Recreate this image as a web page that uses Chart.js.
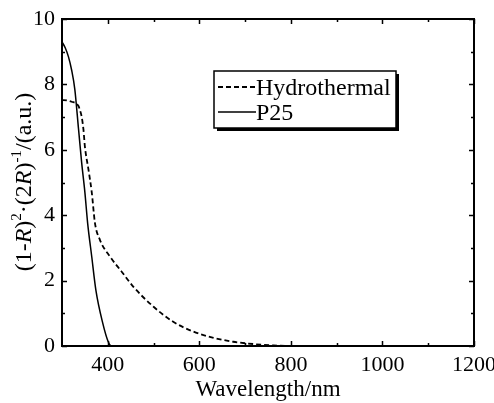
<!DOCTYPE html>
<html>
<head>
<meta charset="utf-8">
<script src="https://cdn.jsdelivr.net/npm/chart.js@4.4.1/dist/chart.umd.min.js"></script>
<style>
  html, body { margin: 0; padding: 0; background: #fff; }
  canvas { display: block; }
</style>
</head>
<body>
<canvas id="c" width="494" height="403"></canvas>
<script>
// ---- data ----
const seriesNames = ["Hydrothermal", "P25"];
const hydroWavelength = [300, 303, 321, 336, 339, 343, 347, 350, 358, 365, 372, 383, 405, 430, 456, 500, 543, 587, 631, 674, 718, 760, 800, 1200];
const hydroValues     = [7.50, 7.52, 7.47, 7.34, 7.22, 7.01, 6.6, 6.1, 5.38, 4.7, 3.76, 3.24, 2.73, 2.28, 1.81, 1.20, 0.74, 0.44, 0.25, 0.13, 0.06, 0.02, 0, 0];
const p25Wavelength   = [300, 307, 314, 321, 328, 336, 343, 350, 356, 365, 374, 389, 401, 408, 1200];
const p25Values       = [9.30, 9.12, 8.85, 8.44, 7.85, 6.65, 5.6, 4.7, 3.76, 2.73, 1.71, 0.70, 0.13, 0, 0];
const xTickValues  = [400, 600, 800, 1000, 1200];
const xMinorValues = [500, 700, 900, 1100];
const yTickValues  = [0, 2, 4, 6, 8, 10];
const yMinorValues = [1, 3, 5, 7, 9];
const xTitle = "Wavelength/nm";

const SERIF = '"Liberation Serif", "Times New Roman", serif';

const toPoints = (xs, ys) => xs.map((x, i) => ({ x: x, y: ys[i] }));

// frame + inward ticks
const framePlugin = {
  id: 'frame',
  afterDatasetsDraw(chart) {
    const { ctx, chartArea: a, scales: { x, y } } = chart;
    ctx.save();
    ctx.strokeStyle = '#000';
    ctx.lineWidth = 2;
    ctx.strokeRect(a.left, a.top, a.right - a.left, a.bottom - a.top);
    ctx.lineWidth = 1.5;
    ctx.beginPath();
    const xt = (vals, len) => vals.forEach(v => {
      const px = Math.round(x.getPixelForValue(v)) + 0.5;
      ctx.moveTo(px, a.bottom); ctx.lineTo(px, a.bottom - len);
      ctx.moveTo(px, a.top); ctx.lineTo(px, a.top + len);
    });
    const yt = (vals, len) => vals.forEach(v => {
      const py = Math.round(y.getPixelForValue(v)) + 0.5;
      ctx.moveTo(a.left, py); ctx.lineTo(a.left + len, py);
      ctx.moveTo(a.right, py); ctx.lineTo(a.right - len, py);
    });
    xt(xTickValues, 5); xt(xMinorValues, 3);
    yt(yTickValues, 5); yt(yMinorValues, 3);
    ctx.stroke();
    ctx.restore();
  }
};

// framed legend with drop shadow
const legendPlugin = {
  id: 'boxLegend',
  afterDraw(chart) {
    const { ctx } = chart;
    const bx = 214, by = 71, bw = 182, bh = 57;
    ctx.save();
    ctx.fillStyle = '#000';
    ctx.fillRect(bx + 3, by + 3, bw, bh);
    ctx.fillStyle = '#fff';
    ctx.fillRect(bx, by, bw, bh);
    ctx.strokeStyle = '#000';
    ctx.lineWidth = 1.5;
    ctx.strokeRect(bx, by, bw, bh);
    const rows = [95, 120];
    chart.data.datasets.forEach((ds, i) => {
      const ly = rows[i] - 8;
      ctx.beginPath();
      ctx.setLineDash(ds.borderDash || []);
      ctx.lineWidth = ds.borderWidth;
      ctx.moveTo(218, ly); ctx.lineTo(256, ly);
      ctx.stroke();
      ctx.setLineDash([]);
      ctx.fillStyle = '#000';
      ctx.font = '24px ' + SERIF;
      ctx.textBaseline = 'alphabetic';
      ctx.textAlign = 'left';
      ctx.fillText(ds.label, 256, rows[i]);
    });
    ctx.restore();
  }
};

// rotated y-axis title with italic R and superscripts
const yTitlePlugin = {
  id: 'yTitle',
  afterDraw(chart) {
    const { ctx } = chart;
    const base = 24, sup = 15;
    const segs = [
      { t: '(1-', f: base + 'px ' + SERIF, dy: 0 },
      { t: 'R', f: 'italic ' + base + 'px ' + SERIF, dy: 0 },
      { t: ')', f: base + 'px ' + SERIF, dy: 0 },
      { t: '2', f: sup + 'px ' + SERIF, dy: -10 },
      { t: '·(2', f: base + 'px ' + SERIF, dy: 0 },
      { t: 'R', f: 'italic ' + base + 'px ' + SERIF, dy: 0 },
      { t: ')', f: base + 'px ' + SERIF, dy: 0 },
      { t: '-1', f: sup + 'px ' + SERIF, dy: -10 },
      { t: '/(a.u.)', f: base + 'px ' + SERIF, dy: 0 }
    ];
    ctx.save();
    let total = 0;
    segs.forEach(s => { ctx.font = s.f; s.w = ctx.measureText(s.t).width; total += s.w; });
    ctx.translate(31, 182);
    ctx.rotate(-Math.PI / 2);
    ctx.fillStyle = '#000';
    ctx.textBaseline = 'alphabetic';
    ctx.textAlign = 'left';
    let cx = -total / 2;
    segs.forEach(s => { ctx.font = s.f; ctx.fillText(s.t, cx, s.dy); cx += s.w; });
    ctx.restore();
  }
};

new Chart(document.getElementById('c'), {
  type: 'line',
  data: {
    datasets: [
      {
        label: seriesNames[0],
        data: toPoints(hydroWavelength, hydroValues),
        borderColor: '#000',
        borderWidth: 1.8,
        borderDash: [5, 3],
        pointRadius: 0,
        fill: false,
        cubicInterpolationMode: 'monotone'
      },
      {
        label: seriesNames[1],
        data: toPoints(p25Wavelength, p25Values),
        borderColor: '#000',
        borderWidth: 1.5,
        pointRadius: 0,
        fill: false,
        cubicInterpolationMode: 'monotone'
      }
    ]
  },
  options: {
    responsive: false,
    animation: false,
    devicePixelRatio: 1,
    layout: { padding: { top: 19, right: 20, bottom: 0, left: 0 } },
    plugins: { legend: { display: false }, tooltip: { enabled: false } },
    scales: {
      x: {
        type: 'linear',
        min: 300, max: 1200,
        grid: { display: false, drawTicks: false },
        border: { display: false },
        afterBuildTicks: s => { s.ticks = xTickValues.map(v => ({ value: v })); },
        afterFit: s => { s.height = 57; s.paddingLeft = 0; s.paddingRight = 0; },
        ticks: { color: '#000', font: { family: SERIF, size: 22 }, padding: 6, maxRotation: 0, autoSkip: false,
                 callback: v => String(v) },
        title: { display: true, text: xTitle, color: '#000', font: { family: SERIF, size: 23, lineHeight: 1.1 }, padding: { top: 0, bottom: 0 } }
      },
      y: {
        min: 0, max: 10,
        grid: { display: false, drawTicks: false },
        border: { display: false },
        afterBuildTicks: s => { s.ticks = yTickValues.map(v => ({ value: v })); },
        afterFit: s => { s.width = 62; s.paddingTop = 0; s.paddingBottom = 0; },
        ticks: { color: '#000', font: { family: SERIF, size: 22 }, padding: 7, callback: v => String(v) }
      }
    }
  },
  plugins: [framePlugin, legendPlugin, yTitlePlugin]
});
</script>
</body>
</html>
